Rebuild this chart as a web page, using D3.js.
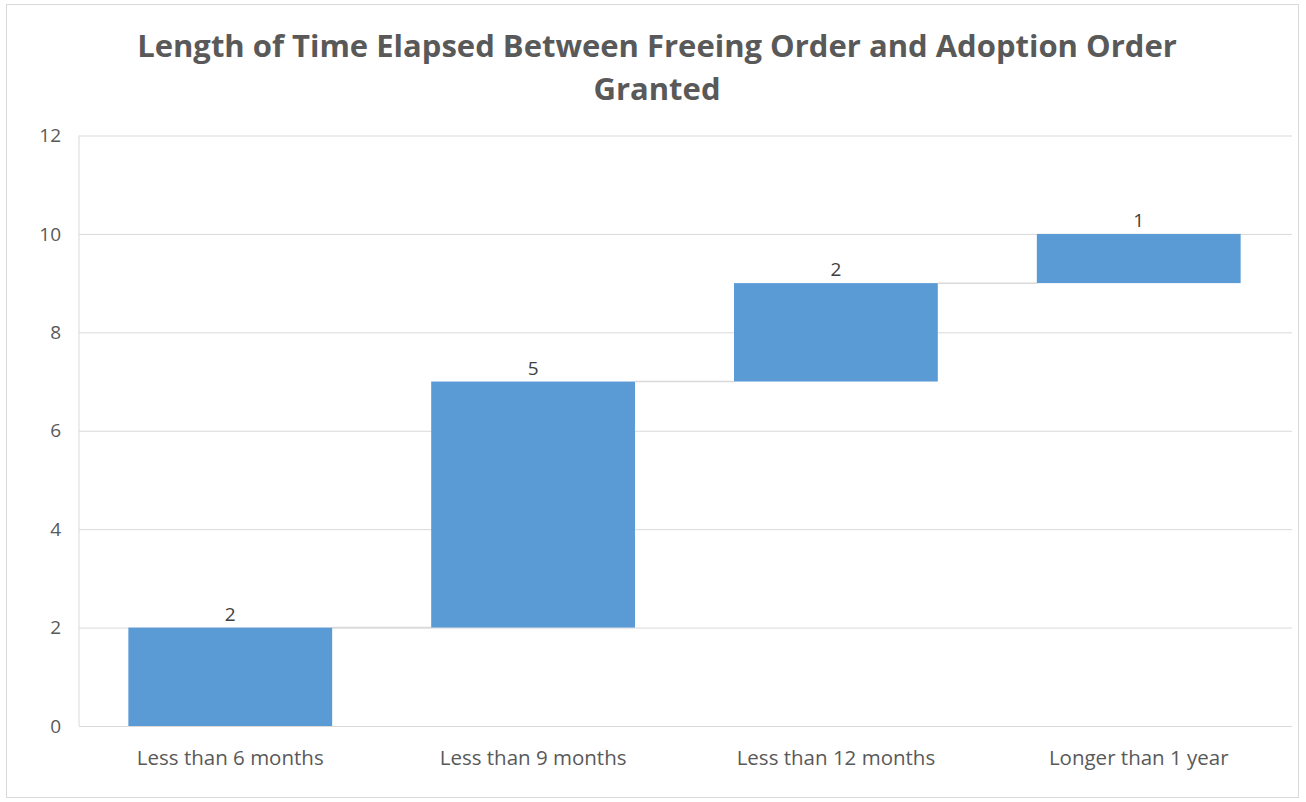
<!DOCTYPE html>
<html>
<head>
<meta charset="utf-8">
<script src="https://cdn.jsdelivr.net/npm/d3@7/dist/d3.min.js"></script>
<style>
    body { margin: 0; background: #fff; }
    svg text { font-family: "Open Sans", "Noto Sans", sans-serif; }
</style>
</head>
<body>
<div id="chart"></div>
<script>
/*
 * Chart data.
 */
var categories = ['Less than 6 months', 'Less than 9 months', 'Less than 12 months', 'Longer than 1 year'];
var values = [2, 5, 2, 1];
var yTicks = [0, 2, 4, 6, 8, 10, 12];
var titleLines = ['Length of Time Elapsed Between Freeing Order and Adoption Order', 'Granted'];

/**
 * Waterfall chart.
 * @public
 * @class
 */
function WaterfallChart() {
    /**
     * Chart dimensions.
     * @private
     * @member {Object}
     */
    this._size = { width: 1306, height: 802 };
    /**
     * Plot area.
     * @private
     * @member {Object}
     */
    this._plot = { left: 79, right: 1290, top: 135.5, bottom: 726 };
    /*
     * Build running totals for the floating bars.
     */
    var total = 0;
    this._data = values.map(function(v, i) {
        var d = { name: categories[i], value: v, start: total, end: total + v };
        total += v;
        return d;
    });

    this._xScale = d3.scaleBand()
        .domain(categories)
        .range([this._plot.left, this._plot.right])
        .paddingInner(0.327)
        .paddingOuter(0.163);

    this._yScale = d3.scaleLinear()
        .domain([0, 12])
        .range([this._plot.bottom, this._plot.top]);
}


/**
 * Render chart.
 * @public
 * @param {String} selection
 * @returns {WaterfallChart}
 */
WaterfallChart.prototype.renderTo = function(selection) {

    var x = this._xScale, y = this._yScale;

    var svg = d3.select(selection).append('svg')
        .attr('width', this._size.width)
        .attr('height', this._size.height);
    /*
     * Outer chart border.
     */
    svg.append('rect')
        .attr('x', 6.5).attr('y', 4.5)
        .attr('width', 1292).attr('height', 793)
        .attr('fill', '#fff')
        .attr('stroke', '#d9d9d9');
    /*
     * Title.
     */
    svg.append('text')
        .attr('text-anchor', 'middle')
        .attr('font-size', 31)
        .attr('font-weight', 'bold')
        .attr('fill', '#595959')
        .selectAll('tspan')
        .data(titleLines)
        .join('tspan')
        .attr('x', 657)
        .attr('y', function(d, i) { return 57 + i * 43; })
        .text(function(d) { return d; });
    /*
     * Gridlines and y axis labels.
     */
    var yAxis = d3.axisLeft(y)
        .tickValues(yTicks)
        .tickSize(-(this._plot.right - this._plot.left + 2))
        .tickPadding(18);

    svg.append('g')
        .attr('transform', 'translate(' + this._plot.left + ',0)')
        .call(yAxis)
        .call(function(g) {
            g.select('.domain').remove();
            g.selectAll('.tick line').attr('stroke', '#d9d9d9');
            g.selectAll('.tick text')
                .attr('fill', '#595959')
                .attr('font-size', 19);
        });
    /*
     * Left axis line.
     */
    svg.append('line')
        .attr('x1', this._plot.left).attr('x2', this._plot.left)
        .attr('y1', y(12)).attr('y2', y(0))
        .attr('stroke', '#d9d9d9');
    /*
     * Connector lines between bars.
     */
    svg.append('g')
        .selectAll('line')
        .data(this._data.slice(0, -1))
        .join('line')
        .attr('x1', function(d) { return x(d.name) + x.bandwidth(); })
        .attr('x2', function(d, i) { return x(categories[i + 1]); })
        .attr('y1', function(d) { return y(d.end); })
        .attr('y2', function(d) { return y(d.end); })
        .attr('stroke', '#d9d9d9')
        .attr('stroke-width', 1.5);
    /*
     * Floating bars.
     */
    svg.append('g')
        .selectAll('rect')
        .data(this._data)
        .join('rect')
        .attr('x', function(d) { return x(d.name); })
        .attr('width', x.bandwidth())
        .attr('y', function(d) { return y(d.end); })
        .attr('height', function(d) { return y(d.start) - y(d.end); })
        .attr('fill', '#5b9bd5');
    /*
     * Data labels.
     */
    svg.append('g')
        .selectAll('text')
        .data(this._data)
        .join('text')
        .attr('x', function(d) { return x(d.name) + x.bandwidth() / 2; })
        .attr('y', function(d) { return y(d.end) - 7; })
        .attr('text-anchor', 'middle')
        .attr('font-size', 19)
        .attr('fill', '#404040')
        .text(function(d) { return d.value; });
    /*
     * Category labels.
     */
    var xAxis = d3.axisBottom(x).tickSize(0).tickPadding(24);

    svg.append('g')
        .attr('transform', 'translate(0,' + this._plot.bottom + ')')
        .call(xAxis)
        .call(function(g) {
            g.select('.domain').remove();
            g.selectAll('.tick text')
                .attr('fill', '#595959')
                .attr('font-size', 20.5);
        });

    return this;
};


new WaterfallChart().renderTo('#chart');
</script>
</body>
</html>
